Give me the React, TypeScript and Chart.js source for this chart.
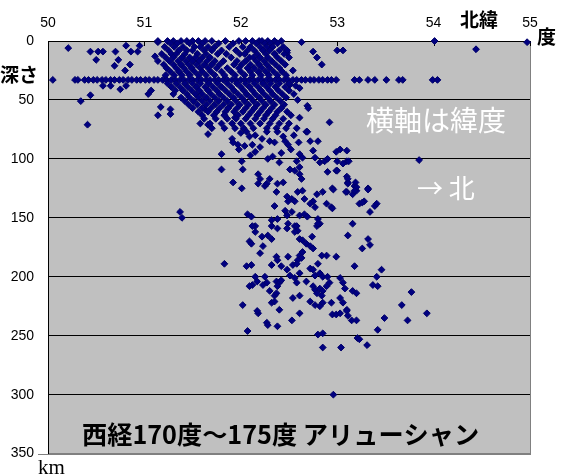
import { useEffect, useRef } from "react";
import { Chart, registerables } from "chart.js";

Chart.register(...registerables);

// ---- axis ticks ----
const latitudeTicks = [50, 51, 52, 53, 54, 55];
const depthTicks = [0, 50, 100, 150, 200, 250, 300, 350];

// ---- data: [latitude (°N), depth (km)] ----
// events fixed at the default 33 km depth
const bandDepthKm = 33;
const bandLatitudes = [
  50.05, 50.28, 50.31, 50.38, 50.42, 50.47, 50.51, 50.56, 50.6, 50.65, 50.69, 50.74,
  50.78, 50.83, 50.87, 50.92, 50.96, 51.01, 51.05, 51.1, 51.14, 51.19, 51.23, 51.28,
  51.32, 51.37, 51.41, 51.46, 51.5, 51.55, 51.59, 51.64, 51.68, 51.73, 51.77, 51.82,
  51.86, 51.91, 51.95, 52.0, 52.04, 52.09, 52.13, 52.18, 52.22, 52.27, 52.31, 52.36,
  52.4, 52.45, 52.49, 52.54, 52.58, 52.63, 52.67, 52.72, 52.76, 52.81, 52.85, 52.9,
  52.94, 52.99, 53.18, 53.23, 53.32, 53.39, 53.51, 53.64, 53.68, 53.99, 54.04,
];

// scattered shallow events away from the main cluster
const shallowScatter = [
  [50.21, 6], [50.44, 9], [50.52, 9], [50.57, 9], [50.5, 16], [50.7, 9], [50.73, 16],
  [50.69, 21], [50.81, 4], [50.86, 9], [50.93, 9], [50.95, 4], [50.85, 20], [50.8, 25],
  [50.57, 38], [50.65, 38], [50.75, 41], [50.81, 38], [50.34, 51], [50.44, 46],
  [51.04, 45], [51.07, 42], [50.41, 71], [51.14, 1], [51.11, 13], [51.14, 17],
  [51.17, 56], [51.14, 63], [51.27, 58], [51.27, 62], [51.63, 58], [51.66, 71],
  [51.83, 63], [51.94, 65], [52.63, 1], [52.48, 10], [52.75, 9], [52.79, 14],
  [52.84, 20], [52.54, 25], [53.0, 8], [53.06, 8], [54.01, 0], [54.44, 7], [54.97, 1],
  [52.51, 37], [52.57, 38], [52.61, 40], [52.59, 50], [52.69, 55], [52.61, 65],
  [52.92, 69], [52.68, 77],
];

// dense cluster 0-75 km
const shallowCluster = [
  [51.14, 0], [51.24, 0], [51.3, 0], [51.38, 0], [51.44, 0], [51.5, 0], [51.56, 0], [51.63, 0], [51.7, 0], [51.84, 0], [51.98, 0], [52.05, 0], [52.12, 0], [52.19, 0], [52.22, 0], [52.28, 0], [52.35, 0], [52.42, 0],
  [51.27, 2], [51.34, 2], [51.47, 2], [51.6, 2], [51.77, 2], [51.92, 2], [52.16, 2], [52.25, 2], [52.31, 2], [52.38, 2],
  [51.21, 5], [51.31, 5], [51.4, 5], [51.52, 5], [51.58, 5], [51.66, 5], [51.73, 5], [51.88, 5], [52.02, 5], [52.1, 5], [52.2, 5], [52.27, 5], [52.33, 5], [52.44, 5],
  [51.25, 8], [51.36, 8], [51.44, 8], [51.5, 8], [51.62, 8], [51.7, 8], [51.8, 8], [51.95, 8], [52.07, 8], [52.14, 8], [52.23, 8], [52.3, 8], [52.4, 8], [52.48, 8],
  [51.18, 11], [51.28, 11], [51.33, 11], [51.42, 11], [51.55, 11], [51.64, 11], [51.76, 11], [51.85, 11], [51.99, 11], [52.04, 11], [52.17, 11], [52.26, 11], [52.35, 11], [52.45, 11],
  [51.22, 14], [51.3, 14], [51.39, 14], [51.47, 14], [51.53, 14], [51.6, 14], [51.68, 14], [51.9, 14], [52.09, 14], [52.13, 14], [52.2, 14], [52.28, 14], [52.38, 14], [52.5, 14],
  [51.26, 17], [51.35, 17], [51.43, 17], [51.5, 17], [51.57, 17], [51.65, 17], [51.73, 17], [51.82, 17], [51.96, 17], [52.05, 17], [52.16, 17], [52.24, 17], [52.32, 17], [52.42, 17],
  [51.2, 20], [51.3, 20], [51.38, 20], [51.46, 20], [51.54, 20], [51.62, 20], [51.7, 20], [51.78, 20], [51.93, 20], [52.01, 20], [52.1, 20], [52.19, 20], [52.27, 20], [52.36, 20], [52.46, 20],
  [51.23, 23], [51.33, 23], [51.41, 23], [51.49, 23], [51.58, 23], [51.66, 23], [51.75, 23], [51.86, 23], [51.98, 23], [52.07, 23], [52.14, 23], [52.22, 23], [52.3, 23], [52.4, 23],
  [51.27, 26], [51.36, 26], [51.44, 26], [51.52, 26], [51.6, 26], [51.69, 26], [51.8, 26], [51.9, 26], [52.0, 26], [52.1, 26], [52.18, 26], [52.26, 26], [52.34, 26], [52.43, 26],
  [51.22, 29], [51.31, 29], [51.39, 29], [51.47, 29], [51.56, 29], [51.64, 29], [51.73, 29], [51.83, 29], [51.94, 29], [52.04, 29], [52.12, 29], [52.21, 29], [52.29, 29], [52.38, 29], [52.47, 29],
  [51.24, 36], [51.33, 36], [51.42, 36], [51.5, 36], [51.58, 36], [51.67, 36], [51.76, 36], [51.86, 36], [51.96, 36], [52.05, 36], [52.14, 36], [52.23, 36], [52.31, 36], [52.4, 36], [52.5, 36],
  [51.28, 39], [51.37, 39], [51.45, 39], [51.54, 39], [51.63, 39], [51.71, 39], [51.8, 39], [51.9, 39], [52.0, 39], [52.09, 39], [52.18, 39], [52.27, 39], [52.36, 39], [52.46, 39],
  [51.32, 42], [51.4, 42], [51.49, 42], [51.57, 42], [51.66, 42], [51.75, 42], [51.84, 42], [51.93, 42], [52.03, 42], [52.12, 42], [52.21, 42], [52.3, 42], [52.39, 42], [52.5, 42],
  [51.3, 45], [51.44, 45], [51.53, 45], [51.6, 45], [51.69, 45], [51.78, 45], [51.88, 45], [51.97, 45], [52.06, 45], [52.15, 45], [52.24, 45], [52.33, 45], [52.43, 45], [52.55, 45],
  [51.38, 48], [51.47, 48], [51.56, 48], [51.64, 48], [51.73, 48], [51.82, 48], [51.92, 48], [52.01, 48], [52.1, 48], [52.19, 48], [52.28, 48], [52.37, 48], [52.47, 48],
  [51.42, 51], [51.51, 51], [51.6, 51], [51.68, 51], [51.77, 51], [51.86, 51], [51.95, 51], [52.04, 51], [52.13, 51], [52.22, 51], [52.31, 51], [52.41, 51],
  [51.46, 54], [51.55, 54], [51.64, 54], [51.73, 54], [51.82, 54], [51.9, 54], [51.99, 54], [52.08, 54], [52.17, 54], [52.26, 54], [52.35, 54], [52.45, 54],
  [51.5, 57], [51.6, 57], [51.69, 57], [51.78, 57], [51.87, 57], [51.96, 57], [52.05, 57], [52.14, 57], [52.23, 57], [52.32, 57], [52.42, 57], [52.7, 57],
  [51.56, 60], [51.66, 60], [51.75, 60], [51.84, 60], [51.93, 60], [52.02, 60], [52.11, 60], [52.2, 60], [52.29, 60], [52.38, 60], [52.48, 60],
  [51.6, 63], [51.72, 63], [51.83, 63], [51.97, 63], [52.08, 63], [52.17, 63], [52.26, 63], [52.36, 63], [52.52, 63],
  [51.62, 66], [51.74, 66], [51.86, 66], [51.95, 66], [52.05, 66], [52.15, 66], [52.24, 66], [52.33, 66], [52.44, 66],
  [51.58, 70], [51.68, 70], [51.8, 70], [51.91, 70], [52.0, 70], [52.1, 70], [52.2, 70], [52.3, 70], [52.4, 70], [52.5, 70],
  [51.7, 74], [51.83, 74], [51.94, 74], [52.03, 74], [52.13, 74], [52.27, 74], [52.37, 74], [52.47, 74], [52.58, 74],
  [52.0, 78], [52.15, 80], [52.22, 83], [52.55, 80], [52.6, 86], [52.52, 92], [52.42, 95], [52.2, 90], [51.98, 92], [52.1, 97],
];

// intermediate-depth slab events
const slabEvents = [
  [51.66, 79], [51.91, 83], [51.92, 86], [51.97, 88], [52.06, 77], [52.09, 81], [52.04, 89], [52.12, 88],
  [52.15, 94], [52.27, 77], [52.3, 85], [52.35, 86], [52.38, 77], [52.44, 81], [52.46, 85], [52.49, 88],
  [52.33, 98], [52.28, 100], [52.4, 103], [52.69, 77], [52.72, 85], [52.8, 85], [52.61, 96], [52.64, 99],
  [52.58, 102], [52.75, 93], [52.77, 99], [52.82, 103], [52.87, 102], [52.9, 100], [52.99, 94], [53.03, 92],
  [53.1, 93], [53.0, 102], [53.1, 102], [51.8, 96], [51.8, 109], [52.01, 102], [52.02, 109], [52.18, 113],
  [52.2, 117], [52.3, 117], [52.25, 123], [52.27, 121], [52.38, 121], [52.44, 120], [52.51, 109], [52.56, 110],
  [52.61, 107], [52.61, 113], [52.63, 117], [52.9, 111], [52.99, 110], [53.1, 115], [53.11, 120], [53.18, 123],
  [53.2, 127], [53.16, 130], [53.1, 128], [53.32, 125], [51.92, 120], [52.01, 125], [52.18, 121], [52.37, 128],
  [52.59, 128], [52.64, 127], [52.79, 130], [52.85, 128], [52.95, 125], [52.66, 134], [52.48, 132], [52.53, 134],
  [52.49, 136], [52.56, 136], [52.75, 136], [52.72, 138], [52.77, 141], [52.89, 138], [52.94, 141], [53.23, 138],
  [53.28, 136], [53.39, 140], [53.34, 145], [52.35, 140], [52.46, 144], [52.53, 145], [52.48, 148], [52.61, 148],
  [52.66, 147], [52.07, 147], [52.11, 149], [52.15, 157], [52.32, 152], [52.38, 151], [52.49, 155], [52.56, 157],
  [52.69, 149], [52.8, 151], [52.82, 155], [53.16, 155], [53.06, 104], [53.12, 102], [53.0, 110], [52.96, 126],
  [53.09, 128], [53.11, 117], [53.11, 121], [53.19, 120], [53.2, 124], [53.18, 127], [53.32, 126], [53.26, 137],
  [53.41, 138], [52.95, 142], [53.85, 101], [51.37, 145], [51.39, 150],
];

// deep slab events
const deepEvents = [
  [52.12, 157], [52.15, 162], [52.32, 157], [52.38, 159], [52.48, 159], [52.58, 157], [52.59, 161], [52.56, 162],
  [52.79, 157], [52.8, 155], [52.22, 166], [52.28, 165], [52.32, 168], [52.09, 170], [52.11, 172], [52.61, 168],
  [52.64, 169], [52.68, 172], [52.74, 166], [52.72, 174], [52.75, 176], [53.11, 165], [53.32, 168], [53.34, 173],
  [53.26, 176], [52.23, 174], [52.2, 180], [52.37, 183], [52.38, 186], [52.49, 183], [52.61, 182], [52.63, 184],
  [52.59, 186], [52.64, 179], [52.84, 182], [52.89, 182], [52.99, 183], [51.83, 189], [52.06, 191], [52.11, 190],
  [52.32, 190], [52.42, 191], [52.48, 194], [52.54, 190], [52.58, 189], [52.72, 193], [52.75, 194], [52.8, 189],
  [53.18, 191], [53.46, 194], [52.15, 200], [52.17, 204], [52.12, 207], [52.25, 200], [52.27, 205], [52.23, 207],
  [52.37, 204], [52.4, 205], [52.38, 208], [52.42, 203], [52.51, 199], [52.56, 201], [52.61, 197], [52.58, 205],
  [52.68, 204], [52.77, 199], [52.82, 197], [52.85, 200], [52.9, 200], [52.75, 208], [52.77, 211], [52.82, 210],
  [52.85, 212], [52.84, 216], [52.79, 214], [52.89, 208], [52.92, 205], [53.03, 201], [53.06, 205], [53.08, 210],
  [53.41, 200], [53.37, 207], [53.42, 208], [52.09, 208], [52.3, 212], [52.35, 216], [52.37, 214], [52.54, 218],
  [52.61, 216], [52.72, 221], [52.77, 224], [52.85, 222], [52.82, 225], [52.94, 222], [53.03, 218], [53.06, 222],
  [53.1, 228], [53.16, 212], [53.2, 214], [53.77, 213], [52.02, 224], [52.32, 222], [52.35, 221], [52.18, 231],
  [52.17, 229], [52.4, 228], [52.61, 231], [52.95, 232], [52.99, 232], [53.03, 231], [53.1, 229], [53.11, 233],
  [53.15, 237], [53.2, 237], [53.49, 235], [53.67, 224], [53.73, 237], [53.93, 231], [52.27, 239], [52.28, 241],
  [52.38, 242], [52.53, 237], [52.07, 246], [52.8, 249], [52.85, 248], [53.21, 252], [53.42, 245], [53.23, 253],
  [52.85, 260], [53.04, 260], [53.31, 258], [52.96, 300],
];

const markerColor = "#000080";
const plotBg = "#C0C0C0";

const toPoints = (pairs: number[][]) => pairs.map(([x, y]) => ({ x, y }));

const decorPlugin = {
  id: "decor",
  beforeDraw(chart: any) {
    const { ctx, chartArea: a } = chart;
    ctx.save();
    ctx.fillStyle = plotBg;
    ctx.fillRect(a.left, a.top, a.right - a.left, a.bottom - a.top);
    ctx.restore();
  },
  beforeDatasetsDraw(chart: any) {
    const { ctx, chartArea: a, scales } = chart;
    ctx.save();
    ctx.strokeStyle = "#808080";
    ctx.lineWidth = 1;
    ctx.beginPath();
    ctx.moveTo(Math.round(a.right) + 0.5, a.top);
    ctx.lineTo(Math.round(a.right) + 0.5, a.bottom + 1);
    ctx.moveTo(a.left - 10, Math.round(a.bottom) + 0.5);
    ctx.lineTo(a.right + 1, Math.round(a.bottom) + 0.5);
    ctx.stroke();
    ctx.strokeStyle = "#000";
    ctx.beginPath();
    for (const v of latitudeTicks) {
      const px = Math.round(scales.x.getPixelForValue(v)) + 0.5;
      ctx.moveTo(px, a.top);
      ctx.lineTo(px, a.top + 5);
    }
    ctx.stroke();
    ctx.restore();
  },
  afterDraw(chart: any) {
    const { ctx } = chart;
    ctx.save();
    ctx.textBaseline = "middle";
    ctx.textAlign = "left";
    const jp = '"Noto Sans CJK JP", "Noto Sans CJK SC", sans-serif';
    ctx.fillStyle = "#000";
    ctx.font = `bold 19px ${jp}`;
    ctx.fillText("北緯", 460, 20);
    ctx.fillText("度", 537, 37);
    ctx.fillText("深さ", 0, 75);
    ctx.font = '21px "Liberation Serif", serif';
    ctx.textBaseline = "alphabetic";
    ctx.fillText("km", 38, 474);
    ctx.textBaseline = "middle";
    ctx.fillStyle = "#FFFFFF";
    ctx.font = `28px ${jp}`;
    ctx.fillText("横軸は緯度", 366, 120);
    ctx.font = `26px ${jp}`;
    ctx.fillText("→ 北", 417, 188);
    const caption = "西経170度～175度 アリューシャン";
    ctx.fillStyle = "#000";
    ctx.font = `bold 24px ${jp}`;
    const w = ctx.measureText(caption).width;
    const size = Math.max(10, Math.min(30, (24 * 398) / w));
    ctx.font = `bold ${size.toFixed(1)}px ${jp}`;
    ctx.fillText(caption, 82, 434);
    ctx.restore();
  },
};

export default function App() {
  const canvasRef = useRef<HTMLCanvasElement | null>(null);

  useEffect(() => {
    document.body.style.margin = "0";
    const canvas = canvasRef.current;
    if (!canvas) return;
    const points = [
      ...bandLatitudes.map((x) => ({ x, y: bandDepthKm })),
      ...toPoints(shallowScatter),
      ...toPoints(shallowCluster),
      ...toPoints(slabEvents),
      ...toPoints(deepEvents),
    ];
    const tickFont = { family: '"Liberation Sans", Arial, sans-serif', size: 14 };
    const chart = new Chart(canvas, {
      type: "scatter",
      data: {
        datasets: [
          {
            data: points,
            pointStyle: "rectRot",
            radius: 3.4,
            backgroundColor: markerColor,
            borderColor: "#00006a",
            borderWidth: 1,
            clip: false as any,
          },
        ],
      },
      plugins: [decorPlugin],
      options: {
        animation: false,
        responsive: false,
        events: [],
        layout: { padding: { left: 0, top: 0, right: 40, bottom: 19 } },
        plugins: { legend: { display: false }, tooltip: { enabled: false } },
        scales: {
          x: {
            type: "linear",
            position: "top",
            min: latitudeTicks[0],
            max: latitudeTicks[latitudeTicks.length - 1],
            afterBuildTicks: (s: any) => {
              s.ticks = latitudeTicks.map((value) => ({ value }));
            },
            afterFit: (s: any) => {
              s.height = 41;
            },
            ticks: { color: "#000", font: tickFont, padding: 9, maxRotation: 0, autoSkip: false },
            grid: { display: false, drawTicks: false },
            border: { display: true, color: "#000", width: 1 },
          },
          y: {
            type: "linear",
            reverse: true,
            min: depthTicks[0],
            max: depthTicks[depthTicks.length - 1],
            afterBuildTicks: (s: any) => {
              s.ticks = depthTicks.map((value) => ({ value }));
            },
            afterFit: (s: any) => {
              s.width = 48;
            },
            ticks: { color: "#000", font: tickFont, padding: 14, autoSkip: false },
            grid: {
              drawTicks: false,
              lineWidth: 1,
              color: (c: any) => (c.tick && c.tick.value === 350 ? "#808080" : "#000000"),
            },
            border: { display: true, color: "#000", width: 1 },
          },
        },
      },
    });
    let alive = true;
    if ((document as any).fonts) {
      Promise.all([
        document.fonts.load('bold 19px "Noto Sans CJK JP"', "北緯度深さ西経アリューシャン"),
        document.fonts.load('28px "Noto Sans CJK JP"', "横軸は緯度→北"),
        document.fonts.load('14px "Liberation Sans"', "0123456789"),
        document.fonts.load('21px "Liberation Serif"', "km"),
      ])
        .then(() => {
          if (alive) chart.update();
        })
        .catch(() => {});
    }
    return () => {
      alive = false;
      chart.destroy();
    };
  }, []);

  return (
    <div style={{ width: 570, height: 476, background: "#fff" }}>
      <canvas ref={canvasRef} width={570} height={476} style={{ display: "block" }} />
    </div>
  );
}
